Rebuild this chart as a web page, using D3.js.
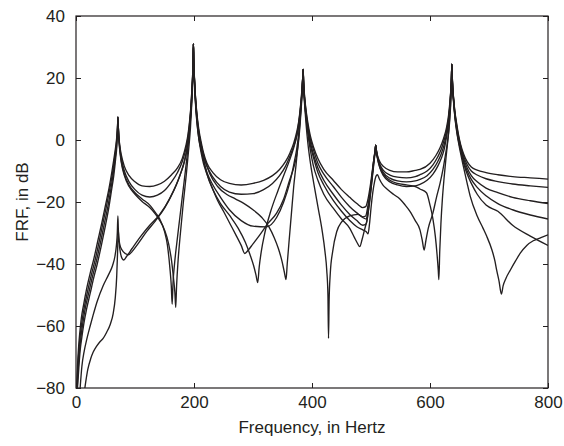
<!DOCTYPE html>
<html><head><meta charset="utf-8">
<script src="https://cdn.jsdelivr.net/npm/d3@7"></script>
<style>
body{margin:0;background:#fff}
svg{display:block}
text{font-family:"Liberation Sans",Arial,sans-serif;fill:#231f20}
</style>
</head><body>
<svg id="chart" width="564" height="446"></svg>
<script>
const xTicks=[0,200,400,600,800];
const yTicks=[-80,-60,-40,-20,0,20,40];
const xLabel="Frequency, in Hertz";
const yLabel="FRF, in dB";

const curveA=[[1,-80],[2.5,-73],[4.5,-66.5],[6.5,-62],[9,-57.5],[13,-53],[18,-48],[24,-43],[30,-38.5],[37,-32.5],[44,-26.5],[50,-21],[56,-15.5],[61,-10],[65.5,-4.5],[68.3,-0.5],[70,3.2],[70.6,5.4],[71,7.4],
[71.5,5],[72.5,1.5],[74,-1.5],[77,-5],[82,-8.5],[90,-11.5],[100,-13.5],[112,-14.8],[125,-15],[138,-14.5],[150,-13.3],[162,-11.2],[172,-9],[180,-6],[186,-2],[190,2],[193,7],[195,11.5],[196.5,16.5],[197.8,21.5],[198.5,25.5],[199,31],
[199.5,26.5],[200.2,22.5],[201,19],[202,15.5],[203.5,11.5],[205.5,7.5],[208.5,3],[212,-0.5],[216,-4],[222,-7.5],[232,-10.5],[245,-12.8],[260,-14],[280,-14.5],[300,-14],[318,-13],[333,-11.5],[345,-9.5],[355,-7],[363,-4],[369,-1],[374,2.5],[377.5,6],[380,10],[382,14],[383.5,18],[384.4,20.5],[385,22.8],
[385.6,19.5],[386.5,16.5],[388,13],[390,9.5],[393,5.5],[397,1.5],[403,-2.5],[410,-6],[420,-9.5],[436,-13],[450,-16],[464,-18.5],[476,-20.5],[486,-21.8],[491,-21.5],[495,-19],[499,-14.5],[501.5,-11],[503.5,-8],[505.3,-5.5],[506.8,-3.5],[508,-1.7],
[509,-3],[511,-5],[515,-7],[521,-8.5],[532,-9.8],[545,-10.3],[560,-10.3],[575,-9.8],[583,-9.5],[600,-7.5],[610,-5],[617,-2.5],[623,0.5],[628,4],[631.5,8],[633.8,12.5],[635.4,16.5],[636.4,20.5],[637,24.5],
[637.6,21],[638.5,17],[640,13.5],[642,9.5],[645,5.5],[648,2],[652,-1.5],[657,-4.5],[663,-7],[670,-8.7],[680,-9.7],[695,-10.5],[715,-11.2],[740,-11.8],[770,-12.2],[800,-12.6]];

const curveB=[[1.5,-80],[3.2,-73],[5.3,-67],[7.5,-62.5],[10.5,-58],[14.5,-53.5],[20,-48.5],[26,-43.5],[32,-39],[39,-33],[46,-26.5],[52,-21],[57.5,-15.5],[62,-10.5],[66,-5],[68.6,-1],[70.1,3],[70.6,5.3],[71,7.4],
[71.5,5],[72.5,1.5],[74,-2],[77,-6],[82,-10],[90,-13.5],[100,-16],[112,-17.8],[125,-18.4],[138,-17.8],[150,-16.3],[162,-13.5],[172,-10.5],[180,-7],[186,-3],[190,1.2],[193,6.3],[195,11],[196.5,16.2],[197.8,21.3],[198.5,25.5],[199,31],
[199.5,26.5],[200.2,22.3],[201,18.8],[202,15.2],[203.5,11],[205.5,6.8],[208.5,2],[212,-1.5],[216,-5],[222,-8.5],[232,-12],[245,-15],[260,-16.8],[280,-17.5],[300,-17.3],[318,-16],[333,-14],[345,-11.5],[355,-8.5],[363,-5],[369,-2],[374,1.5],[377.5,5.5],[380,9.5],[382,13.5],[383.5,17.5],[384.4,20.5],[385,22.8],
[385.6,19.5],[386.5,16],[388,12.5],[390,9],[393,4.5],[397,0.5],[403,-3.5],[410,-7.5],[420,-11],[436,-15],[450,-18.5],[464,-21.5],[476,-23.5],[486,-24.8],[491,-24.5],[495,-21],[499,-16],[501.5,-12],[503.5,-8.5],[505.3,-5.8],[506.8,-3.7],[508,-1.7],
[509,-3.2],[511,-5.3],[515,-7.8],[521,-9.8],[532,-11.3],[545,-12],[560,-12.2],[575,-11.8],[583,-11.2],[595,-10],[605,-8],[613,-5.5],[619,-3],[624,0],[628.5,3.5],[631.8,7.5],[633.9,12],[635.4,16.3],[636.4,20.3],[637,24.5],
[637.6,21],[638.5,17],[640,13.3],[642,9.2],[645,5],[648,1.5],[652,-2],[657,-5.2],[663,-8],[670,-10],[680,-11.3],[695,-12.5],[715,-13.4],[740,-14.2],[770,-14.8],[800,-15.3]];

const curveC=[[2,-80],[4,-73],[6.2,-67.5],[8.7,-63],[12,-58.5],[16,-54],[22,-49],[28,-44],[34,-39.5],[41,-33.5],[48,-27],[54,-21.5],[59,-16],[63,-11],[66.6,-5.5],[68.9,-1.5],[70.2,2.8],[70.7,5.2],[71,7.4],
[71.5,5],[72.5,1],[74,-2.5],[77,-7],[82,-11],[90,-14.5],[100,-17],[112,-19],[125,-21],[135,-23.5],[142,-25.5],[150,-29.5],[155,-34],[159,-41],[161.5,-47],[163,-53],[164.5,-46],[167,-40],[171,-33],[176,-25],[181,-17],[186,-9],[190,-2],[193,4.5],[195,10],[196.5,15.5],[197.8,21],[198.5,25.5],[199,31],
[199.5,26],[200.2,22],[201,18.3],[202,14.5],[203.5,10.2],[205.5,5.8],[208.5,1],[212,-3],[216,-6.5],[222,-10.5],[232,-14.5],[245,-18.5],[260,-22.5],[280,-26],[300,-27.8],[323,-28],[340,-25],[352,-20],[362,-14],[369,-8],[374,-3],[377.5,2],[380,7.5],[382,12.5],[383.5,17],[384.4,20.3],[385,22.8],
[385.6,19],[386.5,15.5],[388,12],[390,8],[393,3.5],[397,-0.5],[403,-5],[410,-9],[420,-13],[436,-17.5],[450,-21],[464,-24],[476,-26],[486,-27.5],[492,-27],[496,-22],[499.5,-16.5],[502,-12],[504,-8.5],[505.7,-5.7],[507,-3.8],[508,-1.7],
[509,-3.4],[511,-5.6],[515,-8.3],[521,-10.5],[532,-12.3],[545,-13.2],[560,-13.5],[575,-13.2],[583,-12.7],[595,-11.5],[605,-9.5],[613,-7],[619,-4.5],[624,-1.5],[628.5,2.5],[631.8,7],[633.9,11.5],[635.4,16],[636.4,20],[637,24.5],
[637.6,20.8],[638.5,16.8],[640,13],[642,8.8],[645,4.5],[648,1],[652,-2.5],[657,-6],[663,-9],[670,-11.5],[680,-13.5],[695,-15.5],[715,-17],[740,-18.5],[770,-19.6],[800,-20.5]];

const curveD=[[2.5,-80],[4.8,-73.5],[7,-68],[10,-63.5],[13.5,-59],[18,-54.5],[24,-49.5],[30,-44.5],[36,-40],[43,-34],[50,-27.5],[55.5,-22],[60,-16.5],[64,-11.5],[67.2,-6],[69.2,-2],[70.3,2.5],[70.8,5],[71,7.4],
[71.5,4.8],[72.5,0.8],[74,-3],[77,-7.5],[82,-11.5],[90,-15],[100,-17.5],[112,-19.8],[125,-21.8],[135,-24],[142,-26],[150,-29],[157,-33.5],[162,-39],[165.5,-45],[167.5,-49],[169,-54],[170.5,-47],[173,-39],[177,-30],[182,-20],[187,-11],[191,-3],[194,4],[196,11],[197.3,16],[198,20.5],[198.6,25],[199,31],
[199.5,26],[200.2,21.8],[201,18],[202,14],[203.5,9.5],[205.5,5],[208.5,0],[212,-4],[216,-7.5],[222,-11],[230,-15],[240,-19.5],[250,-23],[261,-27],[272,-31],[280,-34],[286,-36.6],[292,-35.5],[300,-33.5],[310,-31],[325,-27],[340,-23.6],[352,-19],[362,-13],[369,-9],[374,-5],[377.5,0],[380,5.5],[382,11],[383.5,16],[384.4,20],[385,22.8],
[385.6,19],[386.5,15],[388,11],[390,7],[393,2],[397,-3],[402,-8],[410,-13],[420,-17.5],[436,-22],[450,-25.5],[464,-28.5],[472,-31.5],[477,-33.3],[481,-34.4],[485,-32],[489,-29],[493,-26],[497,-21],[500,-16],[502.3,-12],[504.3,-8.5],[506,-5.5],[507.2,-3.8],[508,-1.7],
[509,-3.6],[511,-6],[515,-9],[521,-11.5],[532,-13.5],[545,-14.5],[560,-15],[575,-14.8],[583,-14.3],[595,-13],[605,-11],[613,-8.5],[619,-6],[624,-3],[628.5,1.5],[631.8,6],[633.9,11],[635.4,15.5],[636.4,19.8],[637,24.5],
[637.6,20.6],[638.5,16.5],[640,12.7],[642,8.4],[645,4],[648,0.5],[652,-3],[657,-6.8],[663,-10],[670,-12.7],[680,-15.3],[695,-18],[715,-20.5],[740,-22.5],[770,-24.2],[800,-25.5]];

const curveE=[[7,-80],[10,-73],[14,-68],[18,-64.5],[24,-60],[29,-56.5],[36,-52],[46,-47],[55,-43.5],[62,-40.5],[66,-37.5],[68.5,-34],[70,-30],[71,-24.5],[71.8,-29],[73,-33],[75,-36],[78,-38.2],[81,-38.7],[86,-37.5],[95,-35],[110,-31],[125,-27.5],[142,-24],[160,-18.5],[170,-14.5],[176,-11.5],[183,-7.5],[188,-3],[192,3],[194.5,9],[196.5,15],[197.8,20.5],[198.5,25],[199,31],
[199.5,26],[200.2,21.5],[201,17.5],[202,13.5],[203.5,9],[205.5,4.5],[208.5,0],[212,-3],[216,-6],[222,-11],[232,-16],[245,-20.5],[261,-24.5],[275,-28.5],[287,-33],[295,-37],[301,-40.5],[305,-43.5],[308,-46],[310.5,-41],[314,-36],[320,-30],[330,-23],[342,-16.5],[353,-11],[362,-6.5],[369,-2.5],[374,1],[377.5,4.5],[380,9],[382,13],[383.5,17],[384.4,20.5],[385,22.8],
[385.6,18.5],[386.5,14.5],[388,10],[390,5],[393,-1],[397,-7],[403,-14],[410,-21.5],[417,-29],[422,-36],[425,-42],[427,-50],[428,-64],[429,-52],[431,-43],[435,-36],[442,-29.5],[450,-26.5],[464,-24.5],[478,-24],[486,-25],[492,-25.5],[495,-22.5],[498.5,-17],[501,-13],[503.2,-9],[505,-6],[506.6,-4],[508,-1.7],
[509,-3.5],[511,-5.8],[515,-8.8],[521,-11],[532,-13],[545,-14],[560,-14.5],[575,-15],[583,-15.8],[594,-17],[600,-21],[605,-25.5],[609,-31],[612,-37],[614,-42],[615,-45],[616.5,-36],[618.5,-27],[621,-19],[624,-12],[627,-6],[630,-0.5],[632.3,4.5],[634,9],[635.3,13.5],[636.3,19],[637,24.5],
[637.6,20.5],[638.5,16.3],[640,12.5],[642,8],[645,3.5],[648,0],[652,-3.5],[657,-7.5],[663,-11],[670,-14],[680,-17.5],[695,-21],[715,-23],[740,-27.5],[770,-31],[800,-34]];

const curveF=[[15,-80],[20,-74],[25,-70.5],[29,-68.5],[35,-66.5],[41,-65],[46,-64],[52,-62],[58,-59.5],[63,-56],[66.5,-51],[69,-44],[70.5,-36],[71.5,-29],[72.5,-31.5],[74,-33.5],[78,-35.5],[84,-36.7],[89,-37],[95,-36],[105,-33.5],[120,-29.5],[135,-26],[150,-22],[165,-16.5],[175,-12],[182,-8],[187,-4],[191,1],[194,6.5],[196,12],[197.5,18],[198.4,24],[199,31],
[199.5,26.3],[200.2,22],[201,18.5],[202,15],[203.5,10.8],[205.5,6.5],[208.5,2],[212,-1.5],[218,-6],[227,-11],[240,-15],[255,-17.5],[270,-19],[285,-20.5],[300,-22.5],[315,-25],[327,-28],[336,-31.5],[343,-35],[349,-39],[353,-42.5],[356,-45],[358,-40],[361,-33],[365,-24],[369,-15],[373,-8],[376.5,-1],[379.5,5.5],[381.8,11.5],[383.3,16],[384.3,20],[385,22.8],
[385.6,19],[386.5,15.5],[388,11.5],[390,7.5],[393,3],[397,-1.5],[403,-6],[410,-10.5],[420,-14.5],[436,-19.5],[450,-23],[464,-26],[476,-28],[486,-29],[492,-29.6],[495,-30.3],[497.5,-27],[500,-22],[503,-17],[506,-13.5],[509,-11.5],[511,-11.2],[514,-12.5],[520,-14.5],[527,-15.8],[538,-17.5],[549,-19],[558,-21],[566,-23],[575,-26],[583,-29],[587,-32.5],[590,-35.5],[593,-32.5],[597,-28.5],[605,-23.5],[611,-18.5],[617,-14],[622,-9.5],[626,-5],[629,-1.5],[632,3],[634,8],[635.4,13],[636.3,18.5],[637,24.5],
[637.6,20.3],[638.5,16],[640,12],[642,7.8],[645,3],[649,-1.5],[656,-8],[663,-14],[668,-18],[680,-24.5],[690,-28.5],[696,-31],[705,-35.5],[710,-39],[713,-42],[717,-45.5],[721,-49.7],[724,-47],[729,-44.5],[736,-42],[745,-39],[753,-36.5],[764,-34],[775,-32.5],[788,-31.5],[800,-30.6]];

const series=[curveA,curveB,curveC,curveD,curveE,curveF];

const svg=d3.select("#chart");
const L=76,R=548,T=16,B=388;
const x=d3.scaleLinear().domain([0,800]).range([L,R]);
const y=d3.scaleLinear().domain([-80,40]).range([B,T]);
const ink="#231f20";

svg.append("defs").append("clipPath").attr("id","clip")
  .append("rect").attr("x",L).attr("y",T).attr("width",R-L).attr("height",B-T);

const line=d3.line().x(d=>x(d[0])).y(d=>y(d[1])).curve(d3.curveMonotoneX);
svg.append("g").attr("clip-path","url(#clip)")
  .selectAll("path").data(series).join("path")
  .attr("d",line).attr("fill","none").attr("stroke",ink)
  .attr("stroke-width",1.35).attr("stroke-linejoin","round");

const fs=17;
const gx=svg.append("g").attr("transform",`translate(0,${B})`)
  .call(d3.axisBottom(x).tickValues(xTicks).tickSizeInner(-5).tickSizeOuter(0).tickPadding(8));
const gxt=svg.append("g").attr("transform",`translate(0,${T})`)
  .call(d3.axisTop(x).tickValues(xTicks).tickSizeInner(-5).tickSizeOuter(0).tickFormat(""));
const gy=svg.append("g").attr("transform",`translate(${L},0)`)
  .call(d3.axisLeft(y).tickValues(yTicks).tickSizeInner(-5).tickSizeOuter(0).tickPadding(11));
const gyr=svg.append("g").attr("transform",`translate(${R},0)`)
  .call(d3.axisRight(y).tickValues(yTicks).tickSizeInner(-5).tickSizeOuter(0).tickFormat(""));
[gx,gxt,gy,gyr].forEach(g=>{
  g.select(".domain").remove();
  g.selectAll(".tick line").attr("stroke",ink).attr("stroke-width",1);
  g.selectAll("text").attr("font-family","Liberation Sans, Arial, sans-serif").attr("font-size",fs).attr("fill",ink);
});

svg.append("rect").attr("x",L).attr("y",T).attr("width",R-L).attr("height",B-T)
  .attr("fill","none").attr("stroke",ink).attr("stroke-width",1.2);

svg.append("text").attr("x",(L+R)/2).attr("y",433).attr("text-anchor","middle")
  .attr("font-size",fs).text(xLabel);
svg.append("text").attr("transform",`translate(28,${(T+B)/2}) rotate(-90)`).attr("text-anchor","middle")
  .attr("font-size",fs).text(yLabel);
</script>
</body></html>
